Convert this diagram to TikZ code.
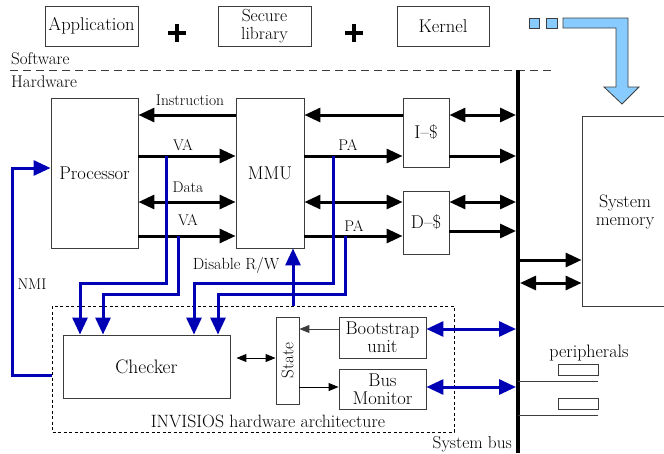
\documentclass[tikz,border=0pt]{standalone}
\usetikzlibrary{arrows.meta}
\definecolor{wireblue}{RGB}{0,0,180}
\definecolor{skyfill}{RGB}{136,204,255}
\definecolor{edgegray}{RGB}{60,60,60}
\begin{document}
\begin{tikzpicture}[x=1pt,y=-1pt,
  box/.style={draw=edgegray,line width=0.9pt,inner sep=0pt,align=center,font=\fontsize{18.5}{17.8}\selectfont},
  lbl/.style={inner sep=0pt,font=\fontsize{15.5}{16}\selectfont},
  bigtip/.style={-{Triangle[length=16pt,width=14pt]}},
  big/.style={line width=3pt,bigtip},
  bigboth/.style={line width=3pt,{Triangle[length=16pt,width=14pt]}-{Triangle[length=16pt,width=14pt]}},
  bluearr/.style={draw=wireblue,line width=3pt,-{Triangle[length=17pt,width=15pt]},color=wireblue},
  blueboth/.style={draw=wireblue,line width=3pt,{Triangle[length=17pt,width=15pt]}-{Triangle[length=17pt,width=15pt]},color=wireblue},
  thin/.style={line width=1pt,-{Triangle[length=10pt,width=8pt]}},
  thinboth/.style={line width=1pt,{Triangle[length=10pt,width=8pt]}-{Triangle[length=10pt,width=8pt]}}]
\useasboundingbox (0,0) rectangle (664,453);

% software layer
\node[box,minimum width=93pt,minimum height=40pt] (app) at (91.5,26) {Application};
\node[box,minimum width=93pt,minimum height=40pt,font=\fontsize{17.5}{17.5}\selectfont] (seclib) at (264.5,26) {Secure\\library};
\node[box,minimum width=92pt,minimum height=40pt] (kernel) at (443,26) {Kernel};
\foreach \px in {177,354}{
  \draw[line width=4pt] (\px-9,33) -- (\px+9,33);
  \draw[line width=4pt] (\px,24) -- (\px,42);
}
% loading arrow into memory
\draw[edgegray,fill=skyfill,line width=0.8pt] (529,18) rectangle (539,28);
\draw[edgegray,fill=skyfill,line width=0.8pt] (546,18) rectangle (557,28);
\draw[edgegray,fill=skyfill,line width=0.8pt] (563,18) -- (628,18) -- (628,87) -- (639,87) -- (622,104)
  -- (604,87) -- (616,87) -- (616,28) -- (563,28) -- cycle;

% software / hardware split
\node[lbl,anchor=west,font=\fontsize{17}{17}\selectfont] (sw) at (11,59) {Software};
\node[lbl,anchor=west,font=\fontsize{17}{17}\selectfont] (hw) at (11,82) {Hardware};
\draw[edgegray,line width=1pt,dash pattern=on 8pt off 5pt] (10,70) -- (553,70);

% system bus
\coordinate (bus) at (518,70);
\coordinate (busend) at (518,453);
\draw[line width=4pt] (bus) -- (busend);
\node[lbl,anchor=east,font=\fontsize{17.3}{17}\selectfont] (sysbus) at (512,444) {System bus};

% hardware blocks
\node[box,minimum width=87pt,minimum height=150pt] (proc) at (94.5,173) {Processor};
\node[box,minimum width=68pt,minimum height=150pt] (mmu) at (270,173) {MMU};
\node[box,minimum width=46pt,minimum height=69pt] (icache) at (426,132.5) {I--\$};
\node[box,minimum width=46pt,minimum height=63pt] (dcache) at (426,222.5) {D--\$};
\node[box,minimum width=86pt,minimum height=190pt] (mem) at (625,211) {};
\node[inner sep=0pt,align=center,font=\fontsize{18}{17.8}\selectfont] (memtext) at (625,212) {System\\memory};

% rows
\coordinate (yI) at (0,115);
\coordinate (yV1) at (0,156);
\coordinate (yD) at (0,202);
\coordinate (yV2) at (0,236);
\coordinate (yW) at (0,231);
\coordinate (yM1) at (0,260);
\coordinate (yM2) at (0,283);

\draw[big] (mmu.west |- yI) -- (proc.east |- yI);
\draw[big] (icache.west |- yI) -- (mmu.east |- yI);
\draw[big] (proc.east |- yV1) -- (mmu.west |- yV1);
\draw[big] (mmu.east |- yV1) -- (icache.west |- yV1);
\draw[bigboth] (proc.east |- yD) -- (mmu.west |- yD);
\draw[bigboth] (mmu.east |- yD) -- (dcache.west |- yD);
\draw[big] (proc.east |- yV2) -- (mmu.west |- yV2);
\draw[big] (mmu.east |- yV2) -- (dcache.west |- yV2);
\draw[bigboth,shorten >=2pt] (icache.east |- yI) -- (bus |- yI);
\draw[big,shorten >=2pt] (icache.east |- yV1) -- (bus |- yV1);
\draw[bigboth,shorten >=2pt] (dcache.east |- yD) -- (bus |- yD);
\draw[big,shorten >=2pt] (dcache.east |- yW) -- (bus |- yW);
\draw[big] (bus |- yM1) -- (mem.west |- yM1);
\draw[bigboth,shorten <=2pt] (bus |- yM2) -- (mem.west |- yM2);

\node[lbl] (linstr) at (190,100) {Instruction};
\node[lbl] (lva1) at (183,145) {VA};
\node[lbl] (ldata) at (188,187) {Data};
\node[lbl] (lva2) at (188,220) {VA};
\node[lbl] (lpa1) at (348,145) {PA};
\node[lbl] (lpa2) at (354,226) {PA};

% monitor
\draw[line width=1pt,dash pattern=on 3pt off 2.5pt] (52,306) rectangle (454,432);
\node[lbl,font=\fontsize{17.8}{17}\selectfont] (arch) at (268,421) {INVISIOS hardware architecture};
\node[box,minimum width=167pt,minimum height=63pt,font=\fontsize{19.5}{17}\selectfont] (checker) at (146.5,366.5) {Checker};
\node[box,minimum width=23pt,minimum height=87pt] (state) at (287.5,360.5) {};
\node[rotate=90,inner sep=0pt,font=\fontsize{17}{17}\selectfont] (statetext) at (287.5,360.5) {State};
\node[box,minimum width=87pt,minimum height=41pt] (boot) at (382.5,337.5) {Bootstrap\\unit};
\node[box,minimum width=87pt,minimum height=40pt] (busmon) at (382.5,389) {Bus\\Monitor};

\coordinate (yCS) at (0,358);
\coordinate (yB) at (0,329);
\coordinate (yBM) at (0,387);
\draw[thinboth,shorten <=6pt] (checker.east |- yCS) -- (state.west |- yCS);
\draw[thin,edgegray] (boot.west |- yB) -- (state.east |- yB);
\draw[thin] (state.east |- yBM) -- (busmon.west |- yBM);
\draw[blueboth,shorten >=2pt] (boot.east |- yB) -- (bus |- yB);
\draw[blueboth,shorten >=2pt] (busmon.east |- yBM) -- (bus |- yBM);

% taps into the checker
\coordinate (tva1) at (166,156);
\coordinate (tva2) at (178,236);
\coordinate (tpa1) at (333,156);
\coordinate (tpa2) at (345,236);
\coordinate (k1) at (80,283);
\coordinate (k2) at (103,294);
\coordinate (k3) at (194,283);
\coordinate (k4) at (218,294);
\draw[bluearr] (tva1) |- (k1) -- (k1 |- checker.north);
\draw[bluearr] (tva2) |- (k2) -- (k2 |- checker.north);
\draw[bluearr] (tpa1) |- (k3) -- (k3 |- checker.north);
\draw[bluearr] (tpa2) |- (k4) -- (k4 |- checker.north);

% disable and interrupt
\coordinate (dis) at (293,306);
\draw[bluearr] (dis) -- (dis |- mmu.south);
\node[lbl,font=\fontsize{16.2}{16}\selectfont] (ldis) at (236,265) {Disable R/W};
\coordinate (nmiS) at (52,375);
\coordinate (nmiC) at (12,375);
\coordinate (yN) at (0,168);
\draw[bluearr] (nmiS) -- (nmiC) |- (proc.west |- yN);
\node[lbl] (lnmi) at (32,284) {NMI};

% peripherals
\node[lbl,font=\fontsize{18}{17}\selectfont] (lper) at (589,353) {peripherals};
\draw[edgegray,line width=0.9pt] (558,364) rectangle (598,375);
\draw[edgegray,line width=0.9pt] (558,398) rectangle (598,409);
\draw[edgegray,line width=1pt] (bus |- 0,381) -- (598,381);
\draw[edgegray,line width=1pt] (bus |- 0,415) -- (598,415);
\end{tikzpicture}
\end{document}
